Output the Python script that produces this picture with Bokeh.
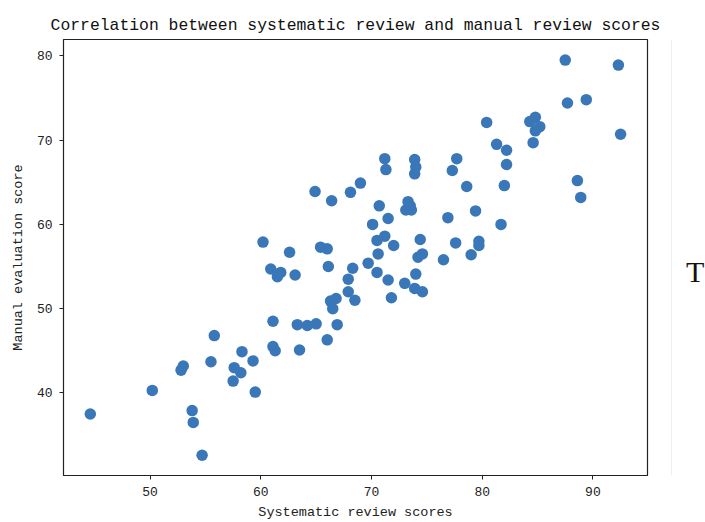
from bokeh.plotting import figure
from bokeh.models import ColumnDataSource, FixedTicker, Range1d, Span
from bokeh.layouts import row
from bokeh.core.properties import value
from bokeh.embed import file_html
from bokeh.resources import INLINE

# Systematic review scores (x) and manual evaluation scores (y)
systematic = [
    44.6, 50.2, 53.0, 52.8, 53.8, 53.9, 54.7, 55.8, 55.5, 58.3, 57.6, 58.2, 57.5,
    59.3, 59.5, 61.1, 61.1, 61.3, 63.3, 63.5, 64.2, 65.0, 66.9, 66.0,
    71.2, 71.3, 73.9, 74.0, 73.9, 77.7, 77.3, 78.6, 69.0, 68.1, 64.9, 66.4,
    70.7, 71.5, 73.1, 73.6, 73.3, 73.5, 70.1, 76.9, 79.4, 60.2, 62.6, 65.4,
    66.0, 70.5, 71.2, 72.0, 74.4, 77.6, 79.7, 79.7, 70.6, 74.2, 74.6, 76.5,
    79.0, 60.9, 61.8, 61.5, 63.1, 66.1, 68.3, 69.7, 67.9, 70.5, 71.5, 74.0,
    73.0, 73.9, 74.6, 71.8, 67.9, 68.5, 66.3, 66.8, 66.5,
    87.5, 92.3, 87.7, 89.4, 92.5, 80.4, 84.3, 84.8, 85.2, 84.8, 84.6, 81.3,
    82.2, 82.2, 82.0, 88.6, 88.9, 81.7,
]
manual = [
    37.5, 40.3, 43.2, 42.7, 37.9, 36.5, 32.6, 46.8, 43.7, 44.9, 43.0, 42.4, 41.4,
    43.8, 40.1, 48.5, 45.5, 45.0, 48.1, 45.1, 48.0, 48.2, 48.1, 46.3,
    67.8, 66.5, 67.7, 66.8, 66.0, 67.8, 66.4, 64.5, 64.9, 63.8, 63.9, 62.8,
    62.2, 60.7, 61.7, 61.7, 62.7, 62.2, 60.0, 60.8, 61.6, 57.9, 56.7, 57.3,
    57.1, 58.1, 58.6, 57.5, 58.2, 57.8, 58.0, 57.5, 56.5, 56.1, 56.5, 55.8,
    56.4, 54.7, 54.3, 53.8, 54.0, 55.0, 54.8, 55.4, 53.5, 54.3, 53.4, 54.1,
    53.0, 52.4, 52.0, 51.3, 52.0, 51.0, 50.9, 51.2, 50.0,
    79.5, 78.9, 74.4, 74.8, 70.7, 72.1, 72.2, 72.7, 71.6, 71.1, 69.7, 69.5,
    68.8, 67.1, 64.6, 65.2, 63.2, 60.0,
]
x_ticks = [50, 60, 70, 80, 90]
y_ticks = [40, 50, 60, 70, 80]

title_text = "Correlation between systematic review and manual review scores"
x_label = "Systematic review scores"
y_label = "Manual evaluation score"
side_text = ["T"]

FONT = "Liberation Mono"

src = ColumnDataSource(data=dict(x=systematic, y=manual))

p = figure(
    width=670, height=522,
    output_backend="svg", toolbar_location=None,
    x_range=Range1d(42.18, 94.93), y_range=Range1d(30.2, 81.94),
    min_border_left=63, min_border_right=23, min_border_top=39, min_border_bottom=46,
)
p.scatter("x", "y", source=src, size=11.5, fill_color="#3a77b8", line_color=None)

p.title.text = title_text
p.title.align = "center"
p.title.text_font = FONT
p.title.text_font_size = "16.4px"
p.title.text_font_style = "normal"
p.title.text_color = "#111111"
p.title.standoff = 9

p.xgrid.visible = False
p.ygrid.visible = False
p.outline_line_color = "#222222"
p.outline_line_width = 1.2
p.background_fill_color = "white"
p.border_fill_color = "white"

for ax, ticks, lab in ((p.xaxis[0], x_ticks, x_label), (p.yaxis[0], y_ticks, y_label)):
    ax.ticker = FixedTicker(ticks=ticks)
    ax.axis_label = lab
    ax.axis_label_text_font = FONT
    ax.axis_label_text_font_size = "13.5px"
    ax.axis_label_text_font_style = "normal"
    ax.axis_label_text_color = "#222222"
    ax.major_label_text_font = FONT
    ax.major_label_text_font_size = "13px"
    ax.major_label_text_color = "#222222"
    ax.axis_line_color = "#222222"
    ax.major_tick_line_color = "#222222"
    ax.major_tick_out = 4
    ax.major_tick_in = 0
    ax.minor_tick_line_color = None
    ax.major_label_standoff = 7
    ax.axis_label_standoff = 6

p.yaxis[0].axis_label_standoff = 8
p.yaxis[0].major_label_orientation = "horizontal"

# narrow side panel holding the stray "T" seen at the right of the reference
side = figure(
    width=35, height=522, output_backend="svg", toolbar_location=None,
    x_range=Range1d(0, 35), y_range=Range1d(0, 522),
    min_border=0, x_axis_type=None, y_axis_type=None,
)
side.xgrid.visible = False
side.ygrid.visible = False
side.outline_line_color = None
side.background_fill_color = "white"
side.border_fill_color = "white"
side.add_layout(Span(location=1, dimension="height", line_color="#efefef", line_width=1))
side.text(x=[24.7], y=[244.3], text=side_text, text_font=value("Liberation Serif"),
          text_font_size="30px", text_color="#111111", text_align="center",
          text_baseline="alphabetic")

layout = row(p, side)

open("out.html", "w").write(file_html(layout, INLINE))
